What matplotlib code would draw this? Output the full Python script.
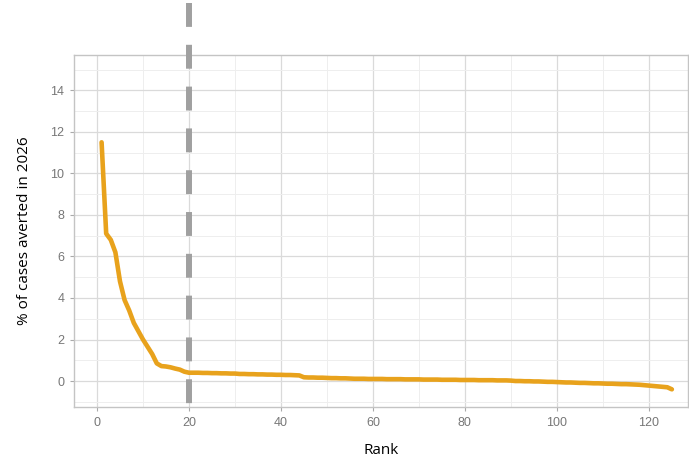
import matplotlib
matplotlib.use("Agg")
import matplotlib.pyplot as plt
from matplotlib.ticker import MultipleLocator
import numpy as np

# % of cases averted in 2026, ordered by rank
rank = list(range(1, 126))
pct_averted = (
    [11.5, 7.1, 6.8, 6.2, 4.8, 3.9, 3.4, 2.8, 2.4, 2.0,
     1.65, 1.3, 0.85, 0.72, 0.70, 0.66, 0.60, 0.55, 0.45, 0.40]
    + [0.40, 0.40, 0.39, 0.39, 0.38, 0.38, 0.37, 0.37, 0.36, 0.36]
    + [0.34, 0.34, 0.33, 0.33, 0.32, 0.32, 0.31, 0.31, 0.30, 0.30,
       0.29, 0.29, 0.28, 0.27]
    + [0.18, 0.17, 0.17, 0.16, 0.16, 0.15, 0.14, 0.14, 0.13, 0.13, 0.12]
    + [0.11, 0.11, 0.11, 0.10, 0.10, 0.10, 0.10, 0.09, 0.09, 0.09,
       0.09, 0.08, 0.08, 0.08, 0.08, 0.07, 0.07, 0.07, 0.07, 0.06,
       0.06, 0.06, 0.06, 0.05, 0.05, 0.05, 0.05, 0.04, 0.04, 0.04,
       0.04, 0.03, 0.03, 0.03, 0.02]
    + [0.00, 0.00, -0.01, -0.01, -0.02, -0.02, -0.03, -0.04, -0.04, -0.05]
    + [-0.06, -0.07, -0.07, -0.08, -0.09, -0.09, -0.10, -0.11, -0.11, -0.12,
       -0.13, -0.13, -0.14, -0.15, -0.15, -0.16, -0.17, -0.18]
    + [-0.20, -0.22, -0.24, -0.26, -0.28, -0.30, -0.40]
)
cutoff_rank = 20

x_ticks = [0, 20, 40, 60, 80, 100, 120]
y_ticks = [0, 2, 4, 6, 8, 10, 12, 14]

fig = plt.figure(figsize=(6.89, 4.63), dpi=100)
ax = fig.add_axes([0.1074, 0.121, 0.8911, 0.760])

ax.set_xlim(-5, 128.5)
ax.set_ylim(-1.25, 15.7)

ax.set_xticks(x_ticks)
ax.set_yticks(y_ticks)
ax.xaxis.set_minor_locator(MultipleLocator(10))
ax.yaxis.set_minor_locator(MultipleLocator(1))
ax.grid(which="major", color="#DADADA", linewidth=0.9)
ax.grid(which="minor", color="#EEEEEE", linewidth=0.7)
ax.set_axisbelow(True)

for spine in ax.spines.values():
    spine.set_color("#C4C4C4")
    spine.set_linewidth(1.0)

ax.tick_params(which="major", length=3, color="#AAAAAA", labelcolor="#777777",
               labelsize=9, pad=4)
ax.tick_params(which="minor", length=0)
for lab in ax.get_xticklabels() + ax.get_yticklabels():
    lab.set_family("Liberation Sans")

ax.plot(rank, pct_averted, color="#E8A21C", linewidth=3.3,
        solid_joinstyle="round", solid_capstyle="round", zorder=3)

# dashed cut-off line, running above the panel like in the reference
ax.plot([cutoff_rank, cutoff_rank], [18.2, -1.25], color="#A0A0A0",
        linewidth=4.3, linestyle=(0, (4.0, 3.0)), clip_on=False, zorder=4)

ax.set_xlabel("Rank", family="Open Sans", fontsize=11, color="black", labelpad=10)
ax.set_ylabel("% of cases averted in 2026", family="Open Sans", fontsize=11,
              color="black", labelpad=13)

fig.savefig("out.png", dpi=100)
